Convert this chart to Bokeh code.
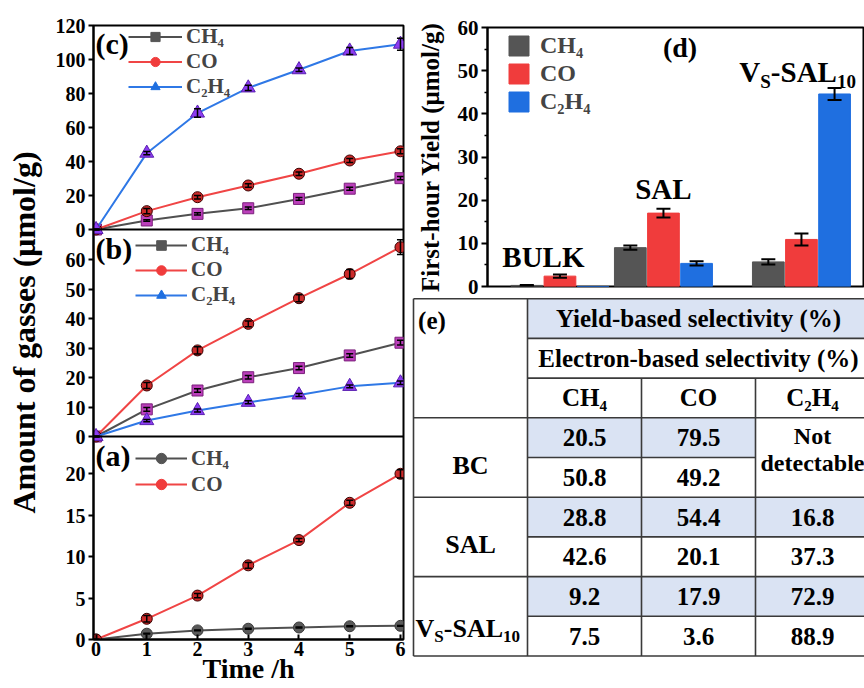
import math
from bokeh.plotting import figure
from bokeh.models import (Range1d, Label, Legend, LegendItem, Whisker, ColumnDataSource,
                          FixedTicker, Span)
from bokeh.layouts import row, column
from bokeh.embed import file_html
from bokeh.resources import INLINE

SERIF = "Liberation Serif"
NAN = float("nan")

# ---------------- data: time courses (panels a-c) ----------------
time_h = [0, 1, 2, 3, 4, 5, 6]

c_ch4 = [0, 5.3, 9.2, 12.5, 18.0, 24.0, 30.2]
c_ch4_err = [0, 0.5, 0.6, 0.7, 0.8, 0.9, 1.0]
c_co = [0, 10.8, 19.0, 25.9, 32.8, 40.6, 46.0]
c_co_err = [0, 1.5, 1.0, 1.0, 1.0, 1.2, 1.5]
c_c2h4 = [0, 44.9, 68.5, 83.3, 94.0, 105.0, 109.0]
c_c2h4_err = [0, 1.0, 2.5, 1.5, 1.0, 2.0, 3.5]

b_ch4 = [0, 9.2, 15.6, 20.1, 23.2, 27.5, 31.8]
b_ch4_err = [0, 0.6, 0.6, 0.6, 0.6, 0.6, 0.8]
b_co = [0, 17.3, 29.2, 38.2, 46.9, 55.1, 64.2]
b_co_err = [0, 1.0, 1.2, 1.0, 1.2, 1.5, 2.5]
b_c2h4 = [0, 5.4, 8.8, 11.6, 14.1, 17.0, 18.2]
b_c2h4_err = [0, 0.4, 0.5, 0.5, 0.5, 0.5, 0.6]

a_ch4 = [0, 0.7, 1.1, 1.3, 1.45, 1.6, 1.65]
a_ch4_err = [0, 0.05, 0.05, 0.05, 0.05, 0.05, 0.05]
a_co = [0, 2.5, 5.3, 8.95, 12.0, 16.5, 20.0]
a_co_err = [0, 0.4, 0.25, 0.35, 0.2, 0.3, 0.5]

c_ticks = [0, 20, 40, 60, 80, 100, 120]
b_ticks = [0, 10, 20, 30, 40, 50, 60]
a_ticks = [0, 5, 10, 15, 20]

gas_names = ["CH\u2084", "CO", "C\u2082H\u2084"]

# ---------------- data: first-hour yield (panel d) ----------------
samples_d = ["BULK", "SAL", "VS-SAL10"]
group_pos = [1.25, 2.0, 3.0]
ch4_yield = [0.25, 9.0, 5.7]
ch4_yield_err = [0.1, 0.5, 0.6]
co_yield = [2.4, 17.0, 10.9]
co_yield_err = [0.4, 1.0, 1.4]
c2h4_yield = [0.0, 5.35, 44.6]
c2h4_yield_err = [0.0, 0.5, 1.4]
d_ticks = [0, 10, 20, 30, 40, 50, 60]

# ---------------- data: selectivity table (panel e) ----------------
table_samples = ["BC", "SAL", "VS-SAL10"]
yield_ch4 = ["20.5", "28.8", "9.2"]
yield_co = ["79.5", "54.4", "17.9"]
yield_c2h4 = [None, "16.8", "72.9"]
elec_ch4 = ["50.8", "42.6", "7.5"]
elec_co = ["49.2", "20.1", "3.6"]
elec_c2h4 = [None, "37.3", "88.9"]


def style_axis(ax, size):
    ax.major_label_text_font = SERIF
    ax.major_label_text_font_style = "bold"
    ax.major_label_text_font_size = size
    ax.major_label_text_color = "black"
    ax.axis_line_width = 2
    ax.axis_line_color = "black"
    ax.major_tick_line_width = 2
    ax.major_tick_line_color = "black"
    ax.minor_tick_line_width = 1.5
    ax.minor_tick_line_color = "black"
    ax.axis_label_text_font = SERIF
    ax.axis_label_text_font_style = "bold"
    ax.axis_label_text_color = "black"


def bold_label(p, x, y, text, size, align="center", units="data", xo=0, yo=0, angle=0.0,
               y_range_name="default"):
    p.add_layout(Label(x=x, y=y, text=text, x_units=units, y_units=units, x_offset=xo,
                       y_offset=yo, angle=angle, text_align=align, text_baseline="middle",
                       text_font=SERIF, text_font_style="bold", text_font_size=size,
                       text_color="black", y_range_name=y_range_name))


# ================= left: stacked panels (c), (b), (a) =================
LW, LH = 410, 688
L_TOP, L_BOT, L_LEFT, L_RIGHT = 25, 49, 93, 7
frame_h = LH - L_TOP - L_BOT
# vertical extent (pixels from frame bottom) and value span of each stacked panel
panel_px = {"a": (0, 203), "b": (203, 410), "c": (410, frame_h)}
panel_val = {"a": (0, 24.5), "b": (0, 70.2), "c": (0, 120)}

pl = figure(width=LW, height=LH, title=None, x_range=Range1d(-0.05, 6.06),
            y_range=Range1d(0, frame_h), output_backend="svg", toolbar_location=None,
            min_border_left=L_LEFT, min_border_right=L_RIGHT,
            min_border_top=L_TOP, min_border_bottom=L_BOT)
pl.outline_line_color = "black"
pl.outline_line_width = 2
pl.grid.visible = False

tick_pos, tick_lab = [], {}
for name, ticks in (("c", c_ticks), ("b", b_ticks), ("a", a_ticks)):
    (y0, y1), (lo, hi) = panel_px[name], panel_val[name]
    k = (hi - lo) / (y1 - y0)
    pl.extra_y_ranges[name] = Range1d(lo - y0 * k, lo + (frame_h - y0) * k)
    for t in ticks:
        pos = int(round(y0 + (t - lo) / k))
        tick_pos.append(pos)
        tick_lab[pos] = str(t)

pl.yaxis.ticker = FixedTicker(ticks=sorted(tick_pos))
pl.yaxis.major_label_overrides = tick_lab
style_axis(pl.yaxis[0], "20px")
pl.yaxis.major_tick_out = 5
pl.yaxis.major_tick_in = 0
pl.yaxis.major_label_standoff = 3
pl.yaxis.axis_label = "Amount of gasses (\u03bcmol/g)"
pl.yaxis.axis_label_text_font_size = "32px"
pl.yaxis.axis_label_standoff = 11

pl.xaxis.ticker = FixedTicker(ticks=time_h)
style_axis(pl.xaxis[0], "20px")
pl.xaxis.major_tick_in = 5
pl.xaxis.major_tick_out = 0
pl.xaxis.major_label_standoff = 2
pl.xaxis.axis_label = "Time /h"
pl.xaxis.axis_label_text_font_size = "28px"
pl.xaxis.axis_label_standoff = -6

for name in ("a", "b"):
    pl.add_layout(Span(location=panel_px[name][1], dimension="width",
                       line_color="black", line_width=2))

CH4_LINE, CO_LINE, C2H4_LINE = "#505050", "#f04545", "#2f78e6"
SQ_FILL, SQ_LINE = "#bb3fbb", "#7a1f7a"
TR_FILL, TR_LINE = "#8c3cf2", "#5a20b0"
CI_FILL, CI_LINE = "#cc2a2a", "#3a0000"
LEG_CH4, LEG_CO, LEG_C2H4 = "#555555", "#f03c3c", "#1f6fe0"


def add_series(rng, series, leg_x, leg_bottom, pitch, glyph_w, tag, tag_y):
    items = []
    for (nm, ys, errs, lcolor, marker, mfill, mline, msize, legfill) in series:
        src = ColumnDataSource(dict(x=time_h, y=ys,
                                    lo=[v - e for v, e in zip(ys, errs)],
                                    hi=[v + e for v, e in zip(ys, errs)]))
        ln = pl.line("x", "y", source=src, line_color=lcolor, line_width=2, y_range_name=rng)
        pl.scatter("x", "y", source=src, marker=marker, size=msize, fill_color=mfill,
                   line_color=mline, line_width=1, y_range_name=rng)
        w = Whisker(base="x", lower="lo", upper="hi", source=src, line_color="black",
                    line_width=1.5, level="overlay", y_range_name=rng)
        for h in (w.upper_head, w.lower_head):
            h.size = 7
            h.line_color = "black"
            h.line_width = 1.5
        pl.add_layout(w)
        dummy = pl.scatter(x=[NAN], y=[NAN], marker=marker, size=12, fill_color=legfill,
                           line_color=legfill, y_range_name=rng)
        items.append(LegendItem(label=nm, renderers=[ln, dummy]))
    pl.add_layout(Legend(items=items, location=(leg_x, leg_bottom), glyph_width=glyph_w,
                         glyph_height=pitch, label_height=pitch, spacing=0, padding=0,
                         margin=0, border_line_color=None, background_fill_alpha=0,
                         label_text_font=SERIF, label_text_font_style="bold",
                         label_text_font_size="21px", label_standoff=4))
    bold_label(pl, 2, tag_y, tag, "30px", align="left", units="screen")


add_series("c", [
    (gas_names[0], c_ch4, c_ch4_err, CH4_LINE, "square", SQ_FILL, SQ_LINE, 11, LEG_CH4),
    (gas_names[1], c_co, c_co_err, CO_LINE, "circle", CI_FILL, CI_LINE, 11, LEG_CO),
    (gas_names[2], c_c2h4, c_c2h4_err, C2H4_LINE, "triangle", TR_FILL, TR_LINE, 14, LEG_C2H4),
], 35, 540, 23, 54, "(c)", 596)
add_series("b", [
    (gas_names[0], b_ch4, b_ch4_err, CH4_LINE, "square", SQ_FILL, SQ_LINE, 11, LEG_CH4),
    (gas_names[1], b_co, b_co_err, CO_LINE, "circle", CI_FILL, CI_LINE, 11, LEG_CO),
    (gas_names[2], b_c2h4, b_c2h4_err, C2H4_LINE, "triangle", TR_FILL, TR_LINE, 14, LEG_C2H4),
], 42, 332, 24, 52, "(b)", 391)
add_series("a", [
    (gas_names[0], a_ch4, a_ch4_err, CH4_LINE, "circle", "#5a5a5a", "#3a3a3a", 11, LEG_CH4),
    (gas_names[1], a_co, a_co_err, CO_LINE, "circle", CI_FILL, CI_LINE, 11, LEG_CO),
], 42, 142, 26, 52, "(a)", 184)

# ================= right top: panel (d) =================
DW, DH = 454, 297
D_TOP, D_BOT, D_LEFT = 27, 11, 77
pd_ = figure(width=DW, height=DH, title=None,
             x_range=Range1d(0.725, 0.725 + (DW - D_LEFT) / 138),
             y_range=Range1d(0, 60), output_backend="svg", toolbar_location=None,
             min_border_left=D_LEFT, min_border_right=0, min_border_top=D_TOP,
             min_border_bottom=D_BOT)
pd_.outline_line_color = "black"
pd_.outline_line_width = 2
pd_.grid.visible = False
pd_.xaxis.visible = False
pd_.yaxis.ticker = FixedTicker(ticks=d_ticks,
                               minor_ticks=[t + 5 for t in d_ticks[:-1]])
style_axis(pd_.yaxis[0], "21px")
pd_.yaxis.major_tick_out = 6
pd_.yaxis.major_tick_in = 0
pd_.yaxis.minor_tick_out = 3
pd_.yaxis.minor_tick_in = 0
pd_.yaxis.major_label_standoff = 3
pd_.yaxis.axis_label = "First-hour Yield (\u03bcmol/g)"
pd_.yaxis.axis_label_text_font_size = "25px"
pd_.yaxis.axis_label_standoff = 11

bar_w = 0.23
bar_off = [-0.24, 0.0, 0.24]
bar_items = []
for k, (vals, errs, col) in enumerate([(ch4_yield, ch4_yield_err, LEG_CH4),
                                       (co_yield, co_yield_err, LEG_CO),
                                       (c2h4_yield, c2h4_yield_err, LEG_C2H4)]):
    xs = [g + bar_off[k] for g in group_pos]
    r = pd_.vbar(x=xs, top=vals, width=bar_w, fill_color=col, line_color=col)
    bar_items.append(LegendItem(label=gas_names[k], renderers=[r]))
    keep = [i for i, e in enumerate(errs) if e > 0]
    src = ColumnDataSource(dict(x=[xs[i] for i in keep],
                                lo=[vals[i] - errs[i] for i in keep],
                                hi=[vals[i] + errs[i] for i in keep]))
    w = Whisker(base="x", lower="lo", upper="hi", source=src, line_color="black",
                line_width=2, level="overlay")
    for h in (w.upper_head, w.lower_head):
        h.size = 14
        h.line_color = "black"
        h.line_width = 2
    pd_.add_layout(w)

pd_.add_layout(Legend(items=bar_items, location=(19, 171), glyph_width=25, glyph_height=25,
                      label_height=25, spacing=1, padding=0, margin=0,
                      border_line_color=None, background_fill_alpha=0,
                      label_text_font=SERIF, label_text_font_style="bold",
                      label_text_font_size="24px", label_standoff=9))
bold_label(pd_, 2.12, 55.4, "(d)", "28px")

# sample names above the bar groups
bold_label(pd_, group_pos[0] - 0.12, 6.9, samples_d[0], "29px")
bold_label(pd_, group_pos[1], 22.5, samples_d[1], "29px")
vs_x = group_pos[2] - 0.45
for t, dx, dy, fs in (("V", 0, 0, "29px"), ("S", 20.9, -9, "19px"),
                      ("-SAL", 31.5, 0, "29px"), ("10", 97.6, -9, "19px")):
    bold_label(pd_, vs_x, 49.6, t, fs, align="left", xo=dx, yo=dy)

# ================= right bottom: table (e) =================
TW, TH = 454, 391
COLW, ROWH = 114, 39.7
pt = figure(width=TW, height=TH, title=None,
            x_range=Range1d(-3 / COLW, -3 / COLW + TW / COLW),
            y_range=Range1d(TH / ROWH - 0.03, -0.03), output_backend="svg",
            toolbar_location=None, x_axis_type=None, y_axis_type=None, min_border=0,
            outline_line_color=None)
pt.grid.visible = False
BLUE = "#dae3f3"
pt.quad(left=[1, 1, 1, 1], right=[4, 3, 4, 4], top=[0, 3, 5, 7], bottom=[1, 4, 6, 8],
        fill_color=BLUE, line_color=None)
hx0 = [0, 1, 1, 0, 1, 0, 1, 0, 1, 0]
hx1 = [4, 4, 4, 4, 3, 4, 4, 4, 4, 4]
hy = [0, 1, 2, 3, 4, 5, 6, 7, 8, 9]
pt.segment(x0=hx0, y0=hy, x1=hx1, y1=hy, line_color="#3a3a3a", line_width=1.6)
pt.segment(x0=[0, 1, 2, 3], y0=[0, 0, 2, 2], x1=[0, 1, 2, 3], y1=[9, 9, 9, 9],
           line_color="#3a3a3a", line_width=1.6)

bold_label(pt, 0.04, 0.55, "(e)", "25px", align="left")
bold_label(pt, 2.5, 0.5, "Yield-based selectivity (%)", "25px")
bold_label(pt, 2.5, 1.5, "Electron-based selectivity (%)", "25px")
for j, g in enumerate(gas_names):
    bold_label(pt, 1.5 + j, 2.5, g, "25px")
for i in range(3):
    for j, (yl, el) in enumerate([(yield_ch4, elec_ch4), (yield_co, elec_co),
                                  (yield_c2h4, elec_c2h4)]):
        if yl[i] is not None:
            bold_label(pt, 1.5 + j, 3.5 + 2 * i, yl[i], "25px")
            bold_label(pt, 1.5 + j, 4.5 + 2 * i, el[i], "25px")
bold_label(pt, 3.5, 3.47, "Not", "24px")
bold_label(pt, 3.5, 4.15, "detectable", "24px")
bold_label(pt, 0.5, 4.2, table_samples[0], "26px")
bold_label(pt, 0.5, 6.2, table_samples[1], "26px")
for t, dx, dy, fs in (("V", 2, 0, "26px"), ("S", 20.8, -8, "17px"),
                      ("-SAL", 30.3, 0, "26px"), ("10", 89.5, -8, "17px")):
    bold_label(pt, 0.0, 8.3, t, fs, align="left", xo=dx, yo=dy)

layout = row(pl, column(row(pd_), row(pt)))
open("out.html", "w").write(file_html(layout, INLINE))
